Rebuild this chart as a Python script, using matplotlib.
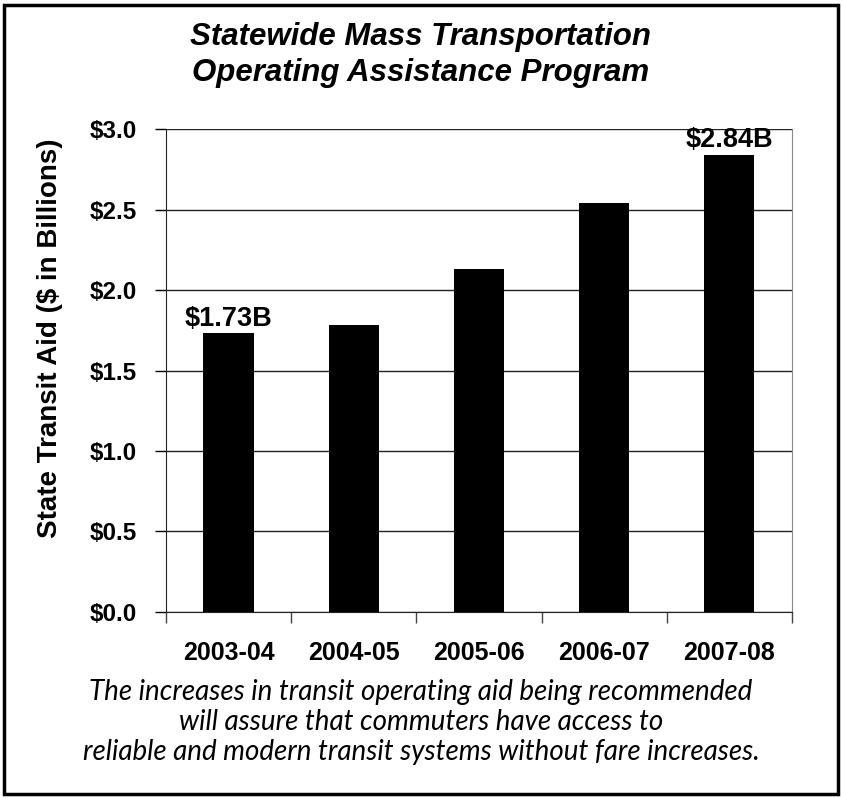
import matplotlib.pyplot as plt
from matplotlib.patches import Rectangle
from matplotlib.ticker import MultipleLocator, FixedLocator, FuncFormatter

years = ["2003-04", "2004-05", "2005-06", "2006-07", "2007-08"]
aid = [1.73, 1.78, 2.13, 2.54, 2.84]
labelled = {0: "$1.73B", 4: "$2.84B"}

title = "Statewide Mass Transportation\nOperating Assistance Program"
caption = ("The increases in transit operating aid being recommended\n"
           "will assure that commuters have access to\n"
           "reliable and modern transit systems without fare increases.")

plt.rcParams['font.family'] = ['Liberation Sans', 'DejaVu Sans']

fig = plt.figure(figsize=(8.42, 7.98), dpi=100)
ax = fig.add_axes([0.197, 0.2331, 0.7436, 0.6052])

x = list(range(len(years)))
ax.bar(x, aid, width=0.4, color='black', zorder=3)
for i, txt in labelled.items():
    ax.text(x[i], aid[i] + 0.01, txt, ha='center', va='bottom',
            fontsize=19.5, fontweight='bold', zorder=4)

ax.set_xlim(-0.5, len(years) - 0.5)
ax.set_ylim(0, 3.0)
ax.yaxis.set_major_locator(MultipleLocator(0.5))
ax.yaxis.set_major_formatter(FuncFormatter(lambda v, p: f"${v:.1f}"))
ax.grid(axis='y', color='#222222', linewidth=1.0, zorder=0)

# category labels centred on bars, tick marks between categories
ax.set_xticks(x)
ax.set_xticklabels(years, fontsize=18, fontweight='bold')
ax.tick_params(axis='x', length=0, pad=21)
ax.xaxis.set_minor_locator(FixedLocator([i - 0.5 for i in range(len(years) + 1)]))
ax.tick_params(axis='x', which='minor', length=8, width=1, color='#444444')
ax.tick_params(axis='y', length=8, width=1, labelsize=17.5, pad=13)
for lbl in ax.get_yticklabels():
    lbl.set_fontweight('bold')

ax.spines['top'].set_visible(False)
ax.spines['right'].set_color('#888888')
ax.spines['left'].set_color('#222222')
ax.spines['bottom'].set_color('#222222')

fig.text(50 / 842, 1 - 338 / 798, "State Transit Aid ($ in Billions)",
         rotation=90, ha='center', va='center', fontsize=20, fontweight='bold')

fig.text(0.5, 1 - 55 / 798, title, ha='center', va='center', fontsize=22.5,
         fontweight='bold', style='italic', linespacing=1.22)

fig.text(0.5, 1 - 722 / 798, caption, ha='center', va='center', fontsize=20,
         style='italic', linespacing=1.18, family=['Lato', 'DejaVu Sans'])

fig.patches.append(Rectangle((4 / 842, 4 / 798), 834 / 842, 789 / 798,
                             transform=fig.transFigure, fill=False,
                             edgecolor='black', linewidth=2.5))

fig.savefig("out.png", dpi=100)
